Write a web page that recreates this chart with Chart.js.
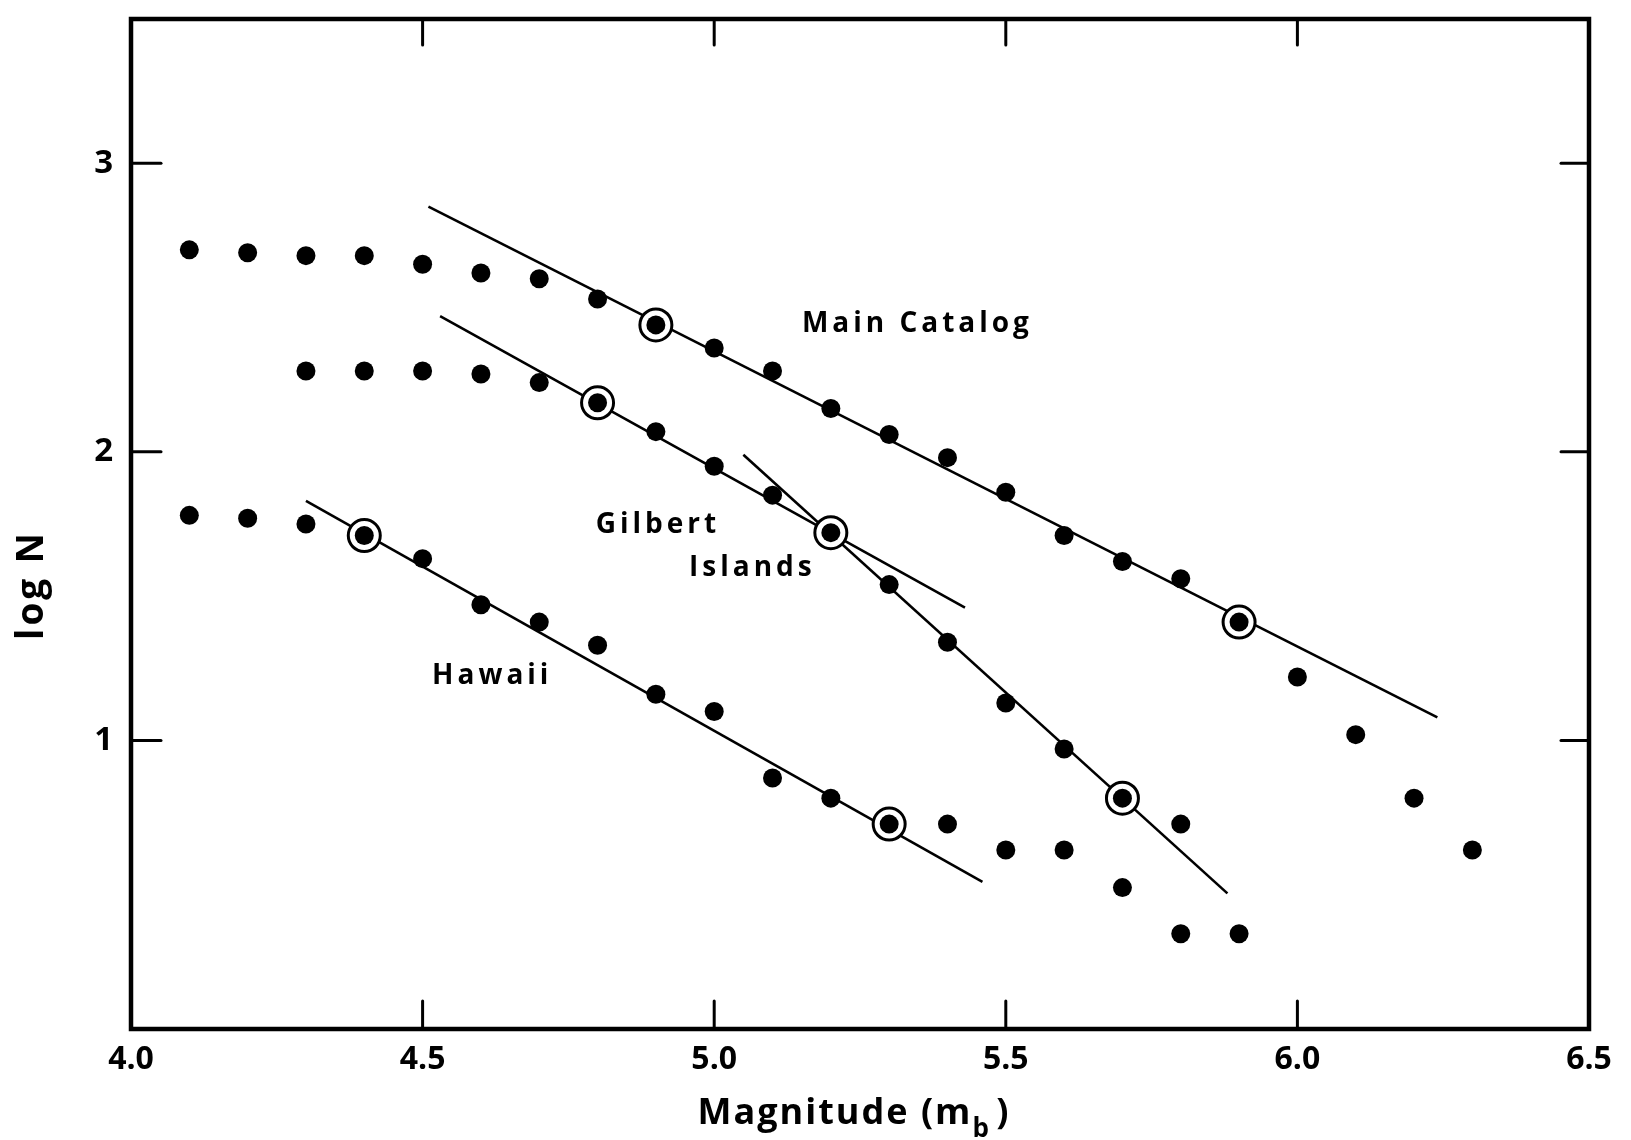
<!DOCTYPE html>
<html>
<head>
<meta charset="utf-8">
<script src="https://cdn.jsdelivr.net/npm/chart.js@4.4.1/dist/chart.umd.min.js"></script>
<style>
    html, body { margin: 0; padding: 0; background: #fff; }
    #wrap { width: 1631px; height: 1140px; position: relative; }
</style>
</head>
<body>
<div id="wrap"><canvas id="Chart"></canvas></div>
<script>
// data
const mainMagnitudes = [4.1, 4.2, 4.3, 4.4, 4.5, 4.6, 4.7, 4.8, 4.9, 5.0, 5.1, 5.2, 5.3, 5.4, 5.5, 5.6, 5.7, 5.8, 5.9, 6.0, 6.1, 6.2, 6.3];
const mainCatalog = [2.70, 2.69, 2.68, 2.68, 2.65, 2.62, 2.60, 2.53, 2.44, 2.36, 2.28, 2.15, 2.06, 1.98, 1.86, 1.71, 1.62, 1.56, 1.41, 1.22, 1.02, 0.80, 0.62];

const gilbertMagnitudes = [4.3, 4.4, 4.5, 4.6, 4.7, 4.8, 4.9, 5.0, 5.1, 5.2, 5.3, 5.4, 5.5, 5.6, 5.7, 5.8, 5.9];
const gilbertIslands = [2.28, 2.28, 2.28, 2.27, 2.24, 2.17, 2.07, 1.95, 1.85, 1.72, 1.54, 1.34, 1.13, 0.97, 0.80, 0.71, 0.33];

const hawaiiMagnitudes = [4.1, 4.2, 4.3, 4.4, 4.5, 4.6, 4.7, 4.8, 4.9, 5.0, 5.1, 5.2, 5.3, 5.4, 5.5, 5.6, 5.7, 5.8];
const hawaii = [1.78, 1.77, 1.75, 1.71, 1.63, 1.47, 1.41, 1.33, 1.16, 1.10, 0.87, 0.80, 0.71, 0.71, 0.62, 0.62, 0.49, 0.33];

// circled points (magnitudes)
const mainCircled = [4.9, 5.9];
const gilbertCircled = [4.8, 5.2, 5.7];
const hawaiiCircled = [4.4, 5.3];

// fitted lines, end points
const mainFitX = [4.51, 6.24];
const mainFitY = [2.85, 1.08];
const gilbertFitX = [4.53, 5.43];
const gilbertFitY = [2.47, 1.46];
const gilbertSteepFitX = [5.05, 5.88];
const gilbertSteepFitY = [1.99, 0.47];
const hawaiiFitX = [4.30, 5.46];
const hawaiiFitY = [1.83, 0.51];

const xTicks = [4.0, 4.5, 5.0, 5.5, 6.0, 6.5];
const yTicks = [1, 2, 3];

const labelTexts = ['Main Catalog', 'Gilbert', 'Islands', 'Hawaii'];
const labelX = [5.345, 4.90, 5.062, 4.616];
const labelY = [2.443, 1.745, 1.596, 1.223];

const FONT = '"Open Sans", "DejaVu Sans", sans-serif';

function toPoints(xs, ys) {
    return xs.map((x, i) => ({x: x, y: ys[i]}));
}

function circledPoints(list, xs, ys) {
    return list.map(m => ({x: m, y: ys[xs.indexOf(m)]}));
}

function dotSet(label, xs, ys) {
    return {
        label: label,
        data: toPoints(xs, ys),
        showLine: false,
        pointRadius: 9.5,
        pointBackgroundColor: '#000',
        pointBorderWidth: 0,
        order: 1
    };
}

function fitSet(label, xs, ys) {
    return {
        label: label,
        data: toPoints(xs, ys),
        showLine: true,
        borderColor: '#000',
        borderWidth: 2.6,
        pointRadius: 0,
        order: 3
    };
}

const rings = []
    .concat(circledPoints(mainCircled, mainMagnitudes, mainCatalog))
    .concat(circledPoints(gilbertCircled, gilbertMagnitudes, gilbertIslands))
    .concat(circledPoints(hawaiiCircled, hawaiiMagnitudes, hawaii));

function line(ctx, x1, y1, x2, y2) {
    ctx.beginPath();
    ctx.moveTo(x1, y1);
    ctx.lineTo(x2, y2);
    ctx.stroke();
}

function noPadding(scale) {
    scale.paddingTop = 0;
    scale.paddingBottom = 0;
    scale.paddingLeft = 0;
    scale.paddingRight = 0;
}

const framePlugin = {
    id: 'frame',
    afterDraw(chart) {
        const ctx = chart.ctx;
        const a = chart.chartArea;
        const x = chart.scales.x;
        const y = chart.scales.y;
        ctx.save();
        ctx.strokeStyle = '#000';
        ctx.lineCap = 'square';
        ctx.lineWidth = 4.5;
        ctx.strokeRect(a.left, a.top, a.right - a.left, a.bottom - a.top);

        ctx.lineWidth = 3;
        ctx.lineCap = 'round';
        xTicks.slice(1, -1).forEach(v => {
            const px = x.getPixelForValue(v);
            line(ctx, px, a.bottom, px, a.bottom - 28);
            line(ctx, px, a.top, px, a.top + 26);
        });
        yTicks.forEach(v => {
            const py = y.getPixelForValue(v);
            line(ctx, a.left, py, a.left + 30, py);
            line(ctx, a.right, py, a.right - 28, py);
        });

        // series labels
        ctx.fillStyle = '#000';
        ctx.font = 'bold 28px ' + FONT;
        ctx.letterSpacing = '4px';
        ctx.textAlign = 'center';
        ctx.textBaseline = 'middle';
        labelTexts.forEach((t, i) => {
            ctx.fillText(t, x.getPixelForValue(labelX[i]) + 2, y.getPixelForValue(labelY[i]));
        });

        // x axis title with subscript
        ctx.textAlign = 'left';
        ctx.textBaseline = 'alphabetic';
        ctx.letterSpacing = '2px';
        const bigFont = 'bold 36px ' + FONT;
        const subFont = 'bold 26px ' + FONT;
        const part1 = 'Magnitude (m';
        const part2 = 'b';
        const part3 = ' )';
        ctx.font = bigFont;
        const w1 = ctx.measureText(part1).width;
        const w3 = ctx.measureText(part3).width;
        ctx.font = subFont;
        const w2 = ctx.measureText(part2).width;
        const cx = (a.left + a.right) / 2 - 3;
        let sx = cx - (w1 + w2 + w3) / 2;
        const base = 1124;
        ctx.font = bigFont;
        ctx.fillText(part1, sx, base);
        ctx.font = subFont;
        ctx.fillText(part2, sx + w1, base + 13);
        ctx.font = bigFont;
        ctx.fillText(part3, sx + w1 + w2 - 6, base);

        // y axis title
        ctx.save();
        ctx.translate(43, 585);
        ctx.rotate(-Math.PI / 2);
        ctx.textAlign = 'center';
        ctx.letterSpacing = '3px';
        ctx.font = 'bold 37px ' + FONT;
        ctx.fillText('log N', 0, 0);
        ctx.restore();

        ctx.restore();
    }
};

const chartData = {
    datasets: [
        dotSet('Main Catalog', mainMagnitudes, mainCatalog),
        dotSet('Gilbert Islands', gilbertMagnitudes, gilbertIslands),
        dotSet('Hawaii', hawaiiMagnitudes, hawaii),
        {
            label: 'circled',
            data: rings,
            showLine: false,
            pointRadius: 16,
            pointBackgroundColor: '#fff',
            pointBorderColor: '#000',
            pointBorderWidth: 3,
            order: 2
        },
        fitSet('Main fit', mainFitX, mainFitY),
        fitSet('Gilbert fit', gilbertFitX, gilbertFitY),
        fitSet('Gilbert steep fit', gilbertSteepFitX, gilbertSteepFitY),
        fitSet('Hawaii fit', hawaiiFitX, hawaiiFitY)
    ]
};

let chartElement = document.getElementById('Chart').getContext('2d');
let chart = new Chart(chartElement, {
    type: 'scatter',
    data: chartData,
    plugins: [framePlugin],
    options: {
        animation: false,
        responsive: true,
        maintainAspectRatio: false,
        devicePixelRatio: 1,
        layout: {
            padding: {top: 16, right: 42, left: 0, bottom: 0}
        },
        plugins: {
            legend: {display: false},
            tooltip: {enabled: false}
        },
        scales: {
            x: {
                type: 'linear',
                min: 4.0,
                max: 6.5,
                grid: {display: false, drawTicks: false},
                border: {display: false},
                afterBuildTicks: scale => {
                    scale.ticks = xTicks.map(v => ({value: v}));
                },
                afterFit: scale => {
                    scale.height = 111;
                    noPadding(scale);
                },
                ticks: {
                    autoSkip: false,
                    maxRotation: 0,
                    padding: 12,
                    color: '#000',
                    font: {family: FONT, size: 32, weight: 'bold'},
                    callback: v => Number(v).toFixed(1)
                }
            },
            y: {
                type: 'linear',
                min: 0,
                max: 3.5,
                grid: {display: false, drawTicks: false},
                border: {display: false},
                afterBuildTicks: scale => {
                    scale.ticks = yTicks.map(v => ({value: v}));
                },
                afterFit: scale => {
                    scale.width = 131;
                    noPadding(scale);
                },
                ticks: {
                    padding: 18,
                    color: '#000',
                    font: {family: FONT, size: 33, weight: 'bold'},
                    callback: v => String(v)
                }
            }
        }
    }
});
</script>
</body>
</html>
